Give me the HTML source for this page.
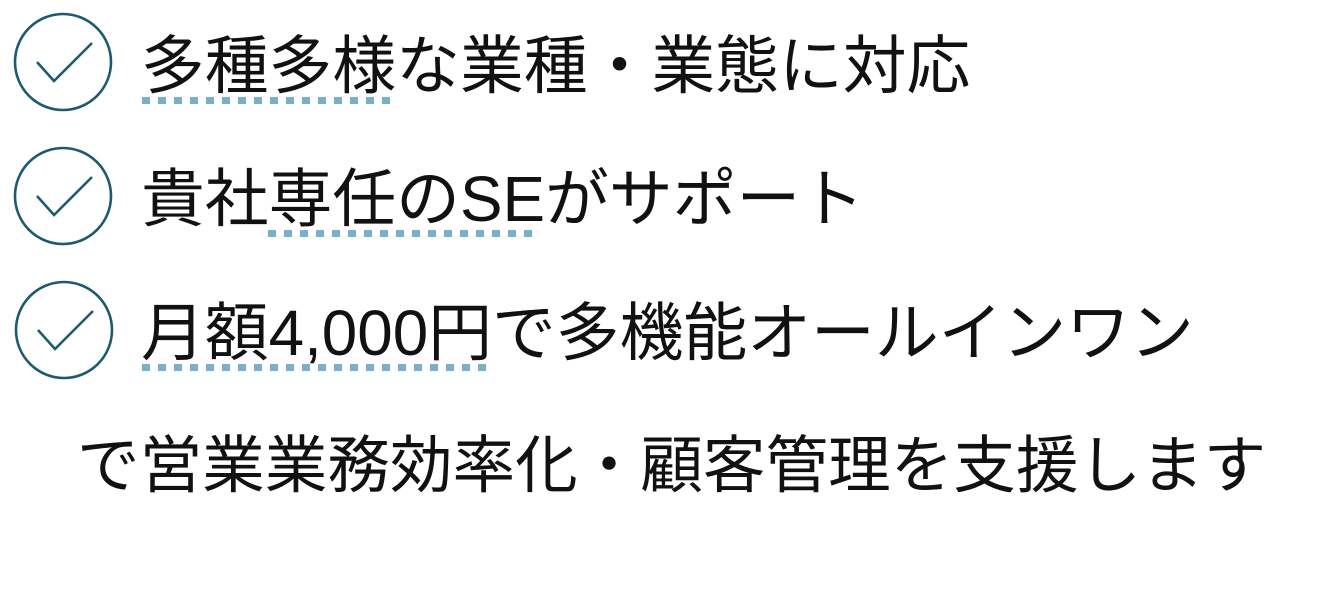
<!DOCTYPE html>
<html><head><meta charset="utf-8"><style>
html,body{margin:0;padding:0;background:#fff;}
body{width:1323px;height:594px;position:relative;overflow:hidden;font-family:"Liberation Sans","Noto Sans CJK JP",sans-serif;color:#111;}
.t{position:absolute;white-space:nowrap;line-height:64px;font-size:63.8px;}
.d{position:absolute;height:7px;background:repeating-linear-gradient(90deg,#78b2c6 0 8px,transparent 8px 16px);}
svg{position:absolute;left:0;top:0;}
</style></head><body>
<svg width="1323" height="594">
<g fill="none" stroke="#1d5a72" stroke-width="2.6">
<circle cx="63" cy="62" r="48"/>
<polyline points="37,62 54,81 92,43"/>
<circle cx="63" cy="196" r="48"/>
<polyline points="37,196 54,215 92,177"/>
<circle cx="64" cy="330" r="48"/>
<polyline points="38,330 55,349 93,311"/>
</g>
</svg>
<div class="t" style="left:141px;top:34px;">多種多様な業種・業態に対応</div>
<div class="d" style="left:142px;top:97px;width:250px;"></div>
<div class="t" style="left:141px;top:167px;">貴社専任のSEがサポート</div>
<div class="d" style="left:268px;top:230px;width:266px;"></div>
<div class="t" style="left:141px;top:301px;">月額4,000円で多機能オールインワン</div>
<div class="d" style="left:142px;top:364px;width:346px;"></div>
<div class="t" style="left:77px;top:434px;font-size:62.6px;">で営業業務効率化・顧客管理を支援します</div>
</body></html>
